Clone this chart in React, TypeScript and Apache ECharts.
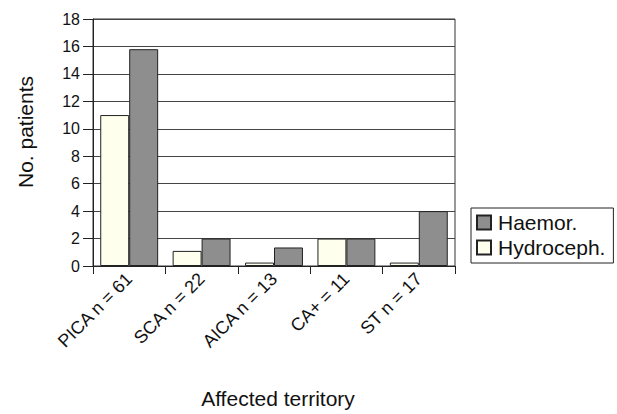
import React, { useEffect, useRef } from "react";
import * as echarts from "echarts";

const categories = ["PICA n = 61", "SCA n = 22", "AICA n = 13", "CA+ = 11", "ST n = 17"];
const hydrocephValues = [11, 1.1, 0.25, 2, 0.25];
const haemorValues = [15.8, 2, 1.35, 2, 4];
const seriesNames = ["Hydroceph.", "Haemor."];
const legendOrder = ["Haemor.", "Hydroceph."];
const yTitle = "No. patients";
const xTitle = "Affected territory";

const FONT = "'Liberation Sans', Arial, sans-serif";

export default function App() {
  const ref = useRef<HTMLDivElement>(null);
  useEffect(() => {
    if (!ref.current) return;
    const chart = echarts.init(ref.current, null, { renderer: "svg" });
    chart.setOption({
      animation: false,
      backgroundColor: "#ffffff",
      textStyle: { fontFamily: FONT },
      grid: {
        left: 93,
        right: 162,
        top: 19,
        bottom: 147,
        show: true,
        borderColor: "#333",
        borderWidth: 1,
        backgroundColor: "transparent",
      },
      graphic: [
        {
          type: "text",
          x: 25,
          y: 132,
          rotation: Math.PI / 2,
          style: {
            text: yTitle,
            fontSize: 21,
            fontFamily: FONT,
            fill: "#111",
            align: "center",
            verticalAlign: "middle",
          },
        },
      ],
      legend: {
        data: legendOrder,
        orient: "vertical",
        left: 471,
        top: 208,
        width: 146,
        padding: [4, 8, 5, 5],
        itemGap: 4,
        itemWidth: 14,
        itemHeight: 14,
        icon: "rect",
        borderColor: "#222",
        borderWidth: 1,
        textStyle: { fontSize: 21, color: "#111", fontFamily: FONT, padding: [0, 0, 0, 2] },
      },
      xAxis: {
        type: "category",
        data: categories,
        name: xTitle,
        nameLocation: "middle",
        nameGap: 122,
        nameTextStyle: { fontSize: 21, color: "#111", fontFamily: FONT, padding: [0, 0, 0, 8] },
        axisLine: { lineStyle: { color: "#222", width: 1 } },
        axisTick: { show: true, length: 8, lineStyle: { color: "#222" } },
        axisLabel: {
          rotate: 45,
          interval: 0,
          fontSize: 18,
          color: "#111",
          margin: 10,
          fontFamily: FONT,
        },
      },
      yAxis: {
        type: "value",
        min: 0,
        max: 18,
        interval: 2,
        axisLine: { show: true, lineStyle: { color: "#222", width: 1 } },
        axisTick: { show: true, length: 10, lineStyle: { color: "#222" } },
        axisLabel: { fontSize: 16, color: "#111", margin: 13, fontFamily: FONT },
        splitLine: { show: true, lineStyle: { color: "#444", width: 1 } },
      },
      series: [
        {
          name: seriesNames[0],
          type: "bar",
          data: hydrocephValues,
          barGap: "0%",
          barCategoryGap: "20%",
          itemStyle: { color: "#FFFFEE", borderColor: "#222", borderWidth: 1 },
        },
        {
          name: seriesNames[1],
          type: "bar",
          data: haemorValues,
          barGap: "0%",
          barCategoryGap: "20%",
          itemStyle: { color: "#8E8E8E", borderColor: "#222", borderWidth: 1 },
        },
      ],
    });
    return () => chart.dispose();
  }, []);
  return <div ref={ref} style={{ width: 617, height: 414, position: "absolute", left: 0, top: 0 }} />;
}
